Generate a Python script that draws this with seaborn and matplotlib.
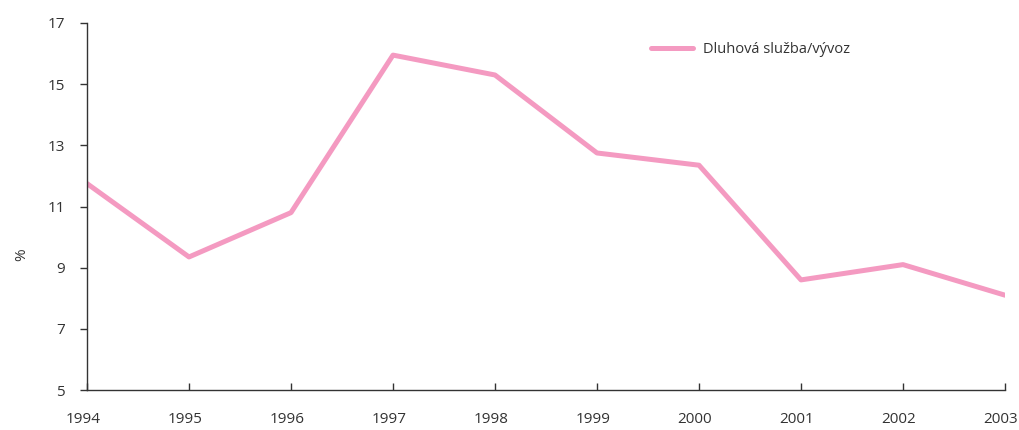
import matplotlib
matplotlib.use("Agg")
import matplotlib.pyplot as plt
import matplotlib.transforms as mtransforms
import seaborn as sns
import pandas as pd

# Chart data
years = [1994, 1995, 1996, 1997, 1998, 1999, 2000, 2001, 2002, 2003]
debt_service = [11.75, 9.35, 10.8, 15.95, 15.3, 12.75, 12.35, 8.6, 9.1, 8.1]
series_label = "Dluhová služba/vývoz"
y_ticks = [5, 7, 9, 11, 13, 15, 17]

df = pd.DataFrame({"rok": years, "hodnota": debt_service})

sns.set_style("white")
plt.rcParams["font.family"] = ["Open Sans", "DejaVu Sans"]

fig = plt.figure(figsize=(10.19, 4.30), dpi=100)
ax = fig.add_axes([87 / 1019, 40 / 430, 918 / 1019, 367 / 430])

sns.lineplot(data=df, x="rok", y="hodnota", ax=ax, color="#F49AC1",
             linewidth=3.6, label=series_label, solid_capstyle="round")

ax.set_xlim(1994, 2003)
ax.set_ylim(5, 17)
ax.set_xticks(years)
ax.set_yticks(y_ticks)
ax.set_xlabel("")
ax.set_ylabel("%", fontsize=11, color="#333333")
ax.yaxis.set_label_coords(-0.063, 0.37)

for side in ["top", "right"]:
    ax.spines[side].set_visible(False)
for side in ["left", "bottom"]:
    ax.spines[side].set_color("#333333")
    ax.spines[side].set_linewidth(1.0)

ax.tick_params(axis="y", direction="out", length=5, width=1, color="#333333",
               labelsize=11, labelcolor="#333333", pad=11, left=True)
ax.tick_params(axis="x", direction="in", length=5, width=1, color="#333333",
               labelsize=11, labelcolor="#333333", pad=16, bottom=True)

# year labels sit slightly left of their ticks in the original
shift = mtransforms.ScaledTranslation(-4 / 100, 0, fig.dpi_scale_trans)
for lbl in ax.get_xticklabels():
    lbl.set_transform(lbl.get_transform() + shift)

leg = ax.legend(loc="upper left", bbox_to_anchor=(0.6, 0.985), frameon=False,
                fontsize=10.5, handlelength=2.9, handletextpad=0.7,
                labelcolor="#333333")

fig.savefig("out.png", dpi=100)
